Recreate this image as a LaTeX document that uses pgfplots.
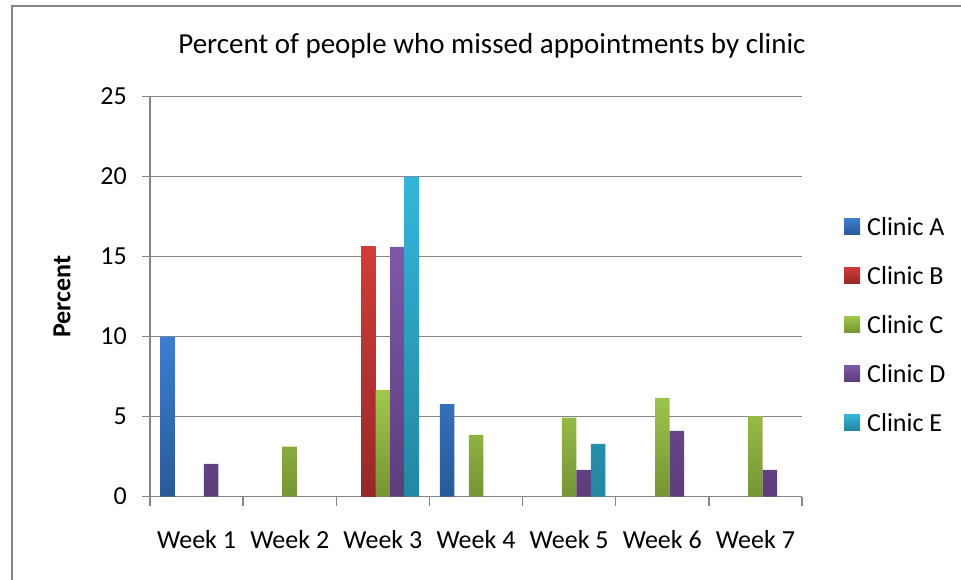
\documentclass[border=0pt]{standalone}
\usepackage{pgfplots}
\pgfplotsset{compat=1.18}
\usepackage{fontspec}
\setmainfont{Carlito}
\definecolor{gridgray}{RGB}{134,134,134}
\definecolor{aTop}{RGB}{60,126,210}
\definecolor{aBot}{RGB}{40,90,150}
\definecolor{bTop}{RGB}{210,60,56}
\definecolor{bBot}{RGB}{150,40,40}
\definecolor{cTop}{RGB}{160,200,75}
\definecolor{cBot}{RGB}{118,148,52}
\definecolor{dTop}{RGB}{126,88,168}
\definecolor{dBot}{RGB}{92,62,124}
\definecolor{eTop}{RGB}{52,182,218}
\definecolor{eBot}{RGB}{35,135,160}
\begin{document}
\begin{tikzpicture}[x=1pt,y=1pt]
\path[use as bounding box] (0,0) rectangle (961,579);
\draw[gridgray, line width=2pt] (12,-5) -- (12,573) -- (970,573);
\begin{axis}[
  at={(150pt,82.5pt)}, anchor=south west,
  scale only axis, width=652pt, height=400pt,
  ybar=0pt, bar width=14.5pt,
  ymin=0, ymax=25, ytick={0,5,...,25},
  xmin=0.5, xmax=7.5,
  xtick={1,...,7},
  xticklabels={Week 1,Week 2,Week 3,Week 4,Week 5,Week 6,Week 7},
  minor xtick={0.5,1.5,...,7.5},
  axis x line*=bottom, axis y line*=left,
  tick align=outside,
  major tick length=8pt, minor tick length=9pt,
  major x tick style={draw=none},
  ytick style={gridgray, line width=1.5pt},
  minor x tick style={gridgray, line width=1.5pt},
  ymajorgrids, grid style={gridgray, line width=1.5pt},
  axis line style={gridgray, line width=1.5pt},
  /pgf/number format/assume math mode=true,
  tick label style={font=\fontsize{26}{31}\selectfont, inner sep=0pt},
  yticklabel style={anchor=east, xshift=-15pt},
  xticklabel style={anchor=base, yshift=-44pt},
  ylabel={\textbf{Percent}},
  ylabel style={font=\fontsize{26}{31}\selectfont, at={(axis description cs:-0.135,0.5)}, anchor=center, rotate=0},
  title={Percent of people who missed appointments by clinic},
  title style={font=\fontsize{29}{34}\selectfont, at={(axis description cs:0.5245,1)}, anchor=base, yshift=37pt, inner sep=0pt},
  legend image code/.code={\path[#1] (0pt,-7pt) rectangle (16pt,9pt);},
  legend style={draw=none, fill=none, at={(axis description cs:1.0644,0.4295)}, anchor=west,
    inner sep=0pt, row sep=32pt, column sep=7pt,
    nodes={inner sep=0pt, text height=16pt, text depth=0pt, font=\fontsize{26}{31}\selectfont}},
  legend cell align=left,
]
\addplot[draw=none, top color=aTop, bottom color=aBot] coordinates {(1,10.0) (4,5.78)};
\addplot[draw=none, top color=bTop, bottom color=bBot] coordinates {(3,15.6)};
\addplot[draw=none, top color=cTop, bottom color=cBot] coordinates {(2,3.12) (3,6.66) (4,3.85) (5,4.93) (6,6.16) (7,5.03)};
\addplot[draw=none, top color=dTop, bottom color=dBot] coordinates {(1,2.04) (3,15.6) (5,1.67) (6,4.1) (7,1.67)};
\addplot[draw=none, top color=eTop, bottom color=eBot] coordinates {(3,20) (5,3.29)};
\legend{Clinic A,Clinic B,Clinic C,Clinic D,Clinic E}
\end{axis}
\end{tikzpicture}
\end{document}
